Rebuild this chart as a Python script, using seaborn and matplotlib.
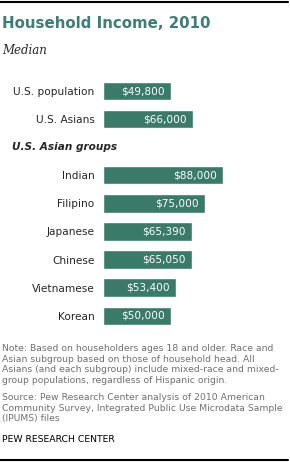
import matplotlib
matplotlib.use("Agg")
from matplotlib import pyplot as plt
from matplotlib.lines import Line2D
import pandas as pd
import seaborn as sns

# totals
total_labels = ["U.S. population", "U.S. Asians"]
total_values = [49800, 66000]

# Asian subgroups
group_labels = ["Indian", "Filipino", "Japanese", "Chinese", "Vietnamese", "Korean"]
group_values = [88000, 75000, 65390, 65050, 53400, 50000]

value_text_total = ["$49,800", "$66,000"]
value_text_group = ["$88,000", "$75,000", "$65,390", "$65,050", "$53,400", "$50,000"]

BAR = "#3a7a68"
TITLE = "#3e7d78"
GRAY = "#707070"
W, H = 290, 462
XMAX = 110000

sns.set_style("white")
plt.rcParams["font.family"] = ["DejaVu Sans"]

fig = plt.figure(figsize=(W / 100, H / 100), dpi=100)


def px_axes(left, top, width, height):
    return fig.add_axes([left / W, 1 - (top + height) / H, width / W, height / H])


def draw_bars(ax, labels, values, texts):
    df = pd.DataFrame({"label": labels, "value": values})
    sns.barplot(data=df, x="value", y="label", order=labels, color=BAR,
                saturation=1, width=0.66, ax=ax)
    ax.set_xlim(0, XMAX)
    ax.set_xlabel("")
    ax.set_ylabel("")
    ax.set_xticks([])
    ax.tick_params(axis="y", length=0, pad=6, labelsize=7.6)
    sns.despine(ax=ax, left=True, bottom=True)
    for i, (v, t) in enumerate(zip(values, texts)):
        ax.text(v - 4700, i, t, ha="right", va="center",
                color="white", fontsize=7.6)
    ax.patch.set_alpha(0)


ax1 = px_axes(103, 77, 150, 56)
draw_bars(ax1, total_labels, total_values, value_text_total)

ax2 = px_axes(103, 161, 150, 169)
draw_bars(ax2, group_labels, group_values, value_text_group)

# top and bottom rules
fig.add_artist(Line2D([0, 288 / W], [1 - 1.5 / H] * 2, color="black", lw=1.5))
fig.add_artist(Line2D([0, 288 / W], [1 - 460 / H] * 2, color="black", lw=1.5))

fig.text(2 / W, 1 - 24 / H, "Household Income, 2010", color=TITLE,
         fontsize=10.8, fontweight="bold", va="center", ha="left")
fig.text(2 / W, 1 - 50 / H, "Median", family="DejaVu Serif", style="italic",
         fontsize=8.5, va="center", ha="left")
fig.text(12 / W, 1 - 147 / H, "U.S. Asian groups", style="italic",
         fontweight="bold", fontsize=7.6, va="center", ha="left")

note = ("Note: Based on householders ages 18 and older. Race and\n"
        "Asian subgroup based on those of household head. All\n"
        "Asians (and each subgroup) include mixed-race and mixed-\n"
        "group populations, regardless of Hispanic origin.")
source = ("Source: Pew Research Center analysis of 2010 American\n"
          "Community Survey, Integrated Public Use Microdata Sample\n"
          "(IPUMS) files")
fig.text(2 / W, 1 - 344 / H, note, color=GRAY, fontsize=6.7,
         va="top", ha="left", linespacing=1.24)
fig.text(2 / W, 1 - 393 / H, source, color=GRAY, fontsize=6.7,
         va="top", ha="left", linespacing=1.24)
fig.text(2 / W, 1 - 439 / H, "PEW RESEARCH CENTER", color="black",
         fontsize=6.7, va="center", ha="left")

fig.savefig("out.png", dpi=100)
